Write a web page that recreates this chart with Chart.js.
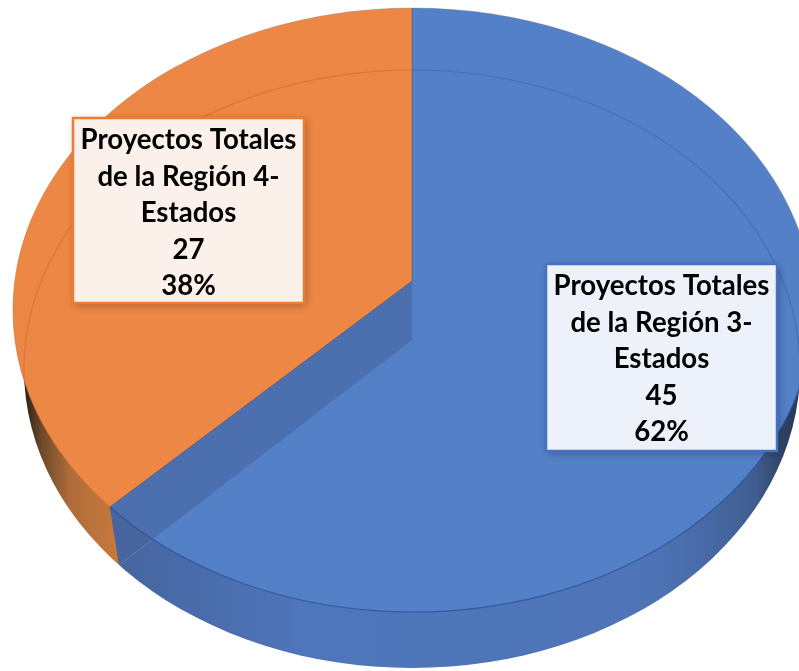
<!DOCTYPE html>
<html>
<head>
<meta charset="utf-8">
<style>
  html, body { margin: 0; background: #fff; }
  canvas { display: block; }
</style>
</head>
<body>
<canvas id="myChart" width="799" height="671"></canvas>
<script src="https://cdn.jsdelivr.net/npm/chart.js"></script>
<script>
const categories = ['Proyectos Totales de la Región 3-Estados', 'Proyectos Totales de la Región 4-Estados'];
const values = [45, 27];
const percentLabels = ['62%', '38%'];
const categoryLines = [
  ['Proyectos Totales', 'de la Región 3-', 'Estados'],
  ['Proyectos Totales', 'de la Región 4-', 'Estados']
];
const sliceColors = ['#5480c8', '#ed8745'];
const borderColors = ['#4472c4', '#ed7d31'];
const boxFills = ['#edf1f9', '#fbf0ea'];
const labelBoxes = [
  { left: 546, top: 264, right: 777, bottom: 451 },
  { left: 73, top: 118, right: 304, bottom: 303 }
];

// the tilted pie: top face and the bottom rim seen through it
const tilt = 0.748;
const tiltBottom = 0.768;
const topFace = { x: 413, y: 310, rx: 400, ry: 302 };
const bottomFace = { x: 412, y: 369, rx: 388, ry: 299 };
const bottomApexY = 340;

function ellipsePath(ctx, e) {
  ctx.beginPath();
  ctx.ellipse(e.x, e.y, e.rx, e.ry, 0, 0, Math.PI * 2);
}

// where a slice edge leaves the apex and hits the ellipse
function rimPoint(e, x0, y0, k, angle) {
  const dx = Math.cos(angle), dy = Math.sin(angle) * k;
  const px = (x0 - e.x) / e.rx, py = (y0 - e.y) / e.ry;
  const qx = dx / e.rx, qy = dy / e.ry;
  const a = qx * qx + qy * qy;
  const b = 2 * (px * qx + py * qy);
  const c = px * px + py * py - 1;
  const t = (-b + Math.sqrt(b * b - 4 * a * c)) / (2 * a);
  return { x: x0 + dx * t, y: y0 + dy * t };
}

// the flat wall between the two slices
function seamPath(ctx, cx, cy, angle) {
  const a = rimPoint(topFace, cx, cy, tilt, angle);
  const b = rimPoint(bottomFace, cx, bottomApexY, tiltBottom, angle);
  ctx.beginPath();
  ctx.moveTo(cx, cy);
  ctx.lineTo(a.x, a.y);
  ctx.lineTo(b.x, b.y);
  ctx.lineTo(cx, bottomApexY);
  ctx.closePath();
  return a;
}

function wallGradient(ctx, stops) {
  const g = ctx.createLinearGradient(stops[0][0], 0, stops[stops.length - 1][0], 0);
  const span = stops[stops.length - 1][0] - stops[0][0];
  stops.forEach(s => g.addColorStop((s[0] - stops[0][0]) / span, s[1]));
  return g;
}

const pie3d = {
  id: 'pie3d',
  beforeDatasetsDraw(chart) {
    const ctx = chart.ctx;
    const arcs = chart.getDatasetMeta(0).data;
    const cx = arcs[0].x, cy = arcs[0].y;
    const fills = [
      wallGradient(ctx, [[119, '#46659f'], [300, '#4f75ba'], [640, '#4f75b8'], [700, '#4a6ba8'], [755, '#3f5d90'], [792, '#2c3c5a']]),
      wallGradient(ctx, [[24, '#2b2014'], [42, '#6e4a2a'], [70, '#b06c3a'], [120, '#c97a3d']])
    ];

    // side wall, only the part below the top face ends up visible
    ctx.save();
    ellipsePath(ctx, bottomFace);
    ctx.clip();
    arcs.forEach((arc, i) => {
      ctx.save();
      ctx.translate(cx, bottomApexY);
      ctx.scale(1, tiltBottom);
      ctx.beginPath();
      ctx.moveTo(0, 0);
      ctx.arc(0, 0, arc.outerRadius, arc.startAngle, arc.endAngle);
      ctx.closePath();
      ctx.restore();
      ctx.fillStyle = fills[i];
      ctx.fill();
    });
    ctx.restore();

    seamPath(ctx, cx, cy, arcs[0].endAngle);
    ctx.fillStyle = '#4c6fae';
    ctx.fill();

    // the slices themselves go through this squash + clip
    ctx.save();
    ellipsePath(ctx, topFace);
    ctx.clip();
    ctx.translate(cx, cy);
    ctx.scale(1, tilt);
    ctx.translate(-cx, -cy);
  },
  afterDatasetsDraw(chart) {
    const ctx = chart.ctx;
    ctx.restore();

    const arcs = chart.getDatasetMeta(0).data;
    const cx = arcs[0].x, cy = arcs[0].y;

    // inside wall of the first slice, seen through it
    const a = seamPath(ctx, cx, cy, arcs[0].endAngle);
    ctx.fillStyle = 'rgba(60,80,130,0.35)';
    ctx.fill();

    // back rim of the bottom face
    ctx.save();
    ellipsePath(ctx, topFace);
    ctx.clip();
    ctx.lineWidth = 1.2;
    ctx.strokeStyle = 'rgba(205,100,40,0.5)';
    ctx.beginPath();
    ctx.ellipse(bottomFace.x, bottomFace.y, bottomFace.rx, bottomFace.ry, 0, Math.PI * 0.97, Math.PI * 1.5);
    ctx.stroke();
    ctx.strokeStyle = 'rgba(60,100,170,0.6)';
    ctx.beginPath();
    ctx.ellipse(bottomFace.x, bottomFace.y, bottomFace.rx, bottomFace.ry, 0, Math.PI * 1.5, Math.PI * 2.03);
    ctx.stroke();
    ctx.restore();

    // rim of the top face
    const rimAngle = Math.atan2((a.y - topFace.y) / topFace.ry, (a.x - topFace.x) / topFace.rx);
    ctx.lineWidth = 1.2;
    ctx.strokeStyle = 'rgba(45,85,155,0.85)';
    ctx.beginPath();
    ctx.ellipse(topFace.x, topFace.y, topFace.rx, topFace.ry, 0, rimAngle, 0, true);
    ctx.stroke();
    ctx.lineWidth = 1;
    ctx.strokeStyle = 'rgba(200,105,45,0.6)';
    ctx.beginPath();
    ctx.ellipse(topFace.x, topFace.y, topFace.rx, topFace.ry, 0, rimAngle, Math.PI * 1.3);
    ctx.stroke();
    ctx.strokeStyle = 'rgba(120,120,125,0.3)';
    ctx.beginPath();
    ctx.ellipse(topFace.x, topFace.y, topFace.rx, topFace.ry, 0, Math.PI * 1.3, Math.PI * 1.95);
    ctx.stroke();

    // data labels
    labelBoxes.forEach((box, i) => {
      const w = box.right - box.left, h = box.bottom - box.top;
      ctx.save();
      ctx.shadowColor = 'rgba(0,0,0,0.3)';
      ctx.shadowBlur = 8;
      ctx.shadowOffsetX = 2;
      ctx.shadowOffsetY = 2;
      ctx.fillStyle = boxFills[i];
      ctx.fillRect(box.left, box.top, w, h);
      ctx.restore();
      ctx.lineWidth = 2.5;
      ctx.strokeStyle = borderColors[i];
      ctx.strokeRect(box.left, box.top, w, h);

      const lines = categoryLines[i].concat([String(values[i]), percentLabels[i]]);
      ctx.fillStyle = '#000';
      ctx.font = 'bold 27.6px Lato';
      ctx.textAlign = 'center';
      ctx.textBaseline = 'alphabetic';
      lines.forEach((line, j) => {
        ctx.fillText(line, (box.left + box.right) / 2, box.top + 31 + j * 36.5);
      });
    });
  }
};

new Chart(document.getElementById('myChart'), {
  type: 'pie',
  data: {
    labels: categories,
    datasets: [{
      label: 'Proyectos Totales',
      data: values,
      backgroundColor: sliceColors,
      borderColor: 'rgba(90,90,100,0.5)',
      borderWidth: 1,
      clip: false
    }]
  },
  options: {
    responsive: false,
    animation: false,
    radius: 470,
    layout: { padding: { left: 25, bottom: 109 } },
    events: [],
    plugins: {
      legend: { display: false },
      title: { display: false },
      tooltip: { enabled: false }
    }
  },
  plugins: [pie3d]
});
</script>
</body>
</html>
